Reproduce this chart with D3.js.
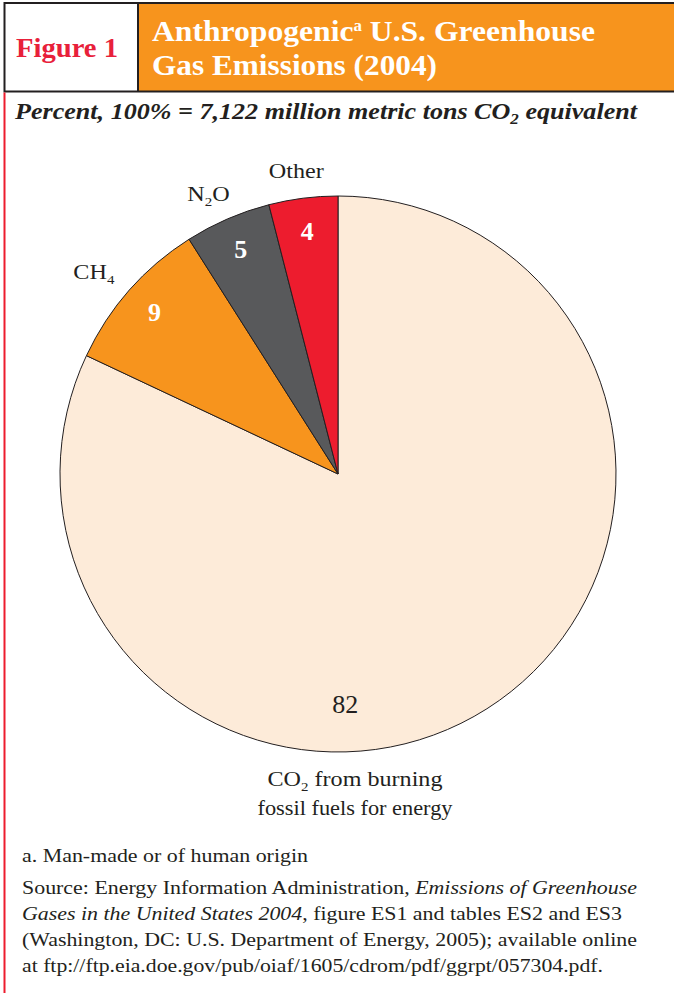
<!DOCTYPE html>
<html>
<head>
<meta charset="utf-8">
<script src="https://cdn.jsdelivr.net/npm/d3@7"></script>
</head>
<body style="margin:0;padding:0;background:#fff;">
<div id="chart"></div>
<script>
// ***************数据*******************
const names = ['CO2', 'CH4', 'N2O', 'Other'];
const values = [82, 9, 5, 4];
const colors = ['#fdebd9', '#f7941d', '#58595b', '#ed1c2e'];
// label text: [main, subscript, tail]
const labelParts = [
    ['CO', '2', ' from burning'],
    ['CH', '4', ''],
    ['N', '2', 'O'],
    ['Other', '', '']
];
const noteLines = [
    [['a. Man-made or of human origin', false]],
    [['Source: Energy Information Administration, ', false], ['Emissions of Greenhouse', true]],
    [['Gases in the United States 2004', true], [', figure ES1 and tables ES2 and ES3', false]],
    [['(Washington, DC: U.S. Department of Energy, 2005); available online', false]],
    [['at ftp://ftp.eia.doe.gov/pub/oiaf/1605/cdrom/pdf/ggrpt/057304.pdf.', false]]
];

const width = 674;
const height = 993;
const cx = 338;
const cy = 474;
const radius = 278;
const dark = '#231f20';
const font = '"Liberation Serif", "Times New Roman", serif';
const widen = 1.15; // reference face is wider than Liberation Serif

const dataset = names.map((name, i) => ({ name, value: values[i], color: colors[i], parts: labelParts[i] }));

// stretch a text horizontally to a width (or by a factor)
function fit(sel, target, factor) {
    sel.each(function () {
        const len = this.getComputedTextLength();
        const w = target || len * (factor || widen);
        d3.select(this).attr('textLength', w).attr('lengthAdjust', 'spacingAndGlyphs');
    });
    return sel;
}

const svg = d3.select('#chart').append('svg')
    .attr('width', width)
    .attr('height', height)
    .attr('font-family', font);

// ***************标题框***************
svg.append('rect')
    .attr('x', 138).attr('y', 3)
    .attr('width', width - 138).attr('height', 88)
    .attr('fill', '#f7941d');
svg.append('path')
    .attr('d', `M${width},3 H4.5 V91.5 H${width} M138,3 V91.5`)
    .attr('fill', 'none')
    .attr('stroke', dark)
    .attr('stroke-width', 2);
// left red rule
svg.append('line')
    .attr('x1', 4.5).attr('x2', 4.5)
    .attr('y1', 92.5).attr('y2', height)
    .attr('stroke', '#ed1c2e')
    .attr('stroke-width', 2);

fit(svg.append('text')
    .attr('x', 16).attr('y', 57)
    .attr('font-size', 27).attr('font-weight', 'bold')
    .attr('fill', '#e8203a')
    .text('Figure 1'), 102);

const title = svg.append('text')
    .attr('x', 152).attr('y', 41)
    .attr('font-size', 30).attr('font-weight', 'bold')
    .attr('fill', '#fff');
title.append('tspan').text('Anthropogenic');
title.append('tspan').attr('font-size', 16).attr('dy', -10).text('a');
title.append('tspan').attr('dy', 10).text(' U.S. Greenhouse');
fit(title, 443);
fit(svg.append('text')
    .attr('x', 152).attr('y', 75)
    .attr('font-size', 30).attr('font-weight', 'bold')
    .attr('fill', '#fff')
    .text('Gas Emissions (2004)'), 285);

// subtitle
const sub = svg.append('text')
    .attr('x', 15).attr('y', 119)
    .attr('font-size', 23).attr('font-style', 'italic').attr('font-weight', 'bold')
    .attr('fill', dark);
sub.append('tspan').text('Percent, 100% = 7,122 million metric tons CO');
sub.append('tspan').attr('font-size', 15).attr('dy', 5).text('2');
sub.append('tspan').attr('dy', -5).text(' equivalent');
fit(sub, 622);

// ***************饼图******************
const pie = d3.pie().sort(null).value((d) => d.value);
const arcs = pie(dataset);
const arc = d3.arc().innerRadius(0).outerRadius(radius);

const g = svg.append('g').attr('transform', `translate(${cx},${cy})`);

g.selectAll('.slice')
    .data(arcs)
    .enter()
    .append('path')
    .attr('class', 'slice')
    .attr('d', arc)
    .attr('fill', (d) => d.data.color)
    .attr('stroke', dark)
    .attr('stroke-width', 1);

// value labels inside small slices
const valueArc = d3.arc().innerRadius(radius * 0.88).outerRadius(radius * 0.88);
g.selectAll('.valueDes')
    .data(arcs.slice(1))
    .enter()
    .append('text')
    .attr('class', 'valueDes')
    .attr('transform', (d) => `translate(${valueArc.centroid(d)})`)
    .attr('text-anchor', 'middle')
    .attr('dy', '0.33em')
    .attr('font-size', 26).attr('font-weight', 'bold')
    .attr('fill', '#fff')
    .text((d) => d.value);

// outer labels for small slices, pushed sideways by half their width
const outerArc = d3.arc().innerRadius(radius * 1.097).outerRadius(radius * 1.097);
const outer = g.selectAll('.outerLabel')
    .data(arcs.slice(1))
    .enter()
    .append('text')
    .attr('class', 'outerLabel')
    .attr('text-anchor', 'middle')
    .attr('dy', '0.33em')
    .attr('font-size', 21)
    .attr('fill', dark);
outer.append('tspan').text((d) => d.data.parts[0]);
outer.append('tspan').attr('font-size', 13).attr('dy', 5).text((d) => d.data.parts[1]);
outer.append('tspan').attr('dy', (d) => d.data.parts[1] ? -5 : 0).text((d) => d.data.parts[2]);
fit(outer);
outer.attr('transform', function (d) {
    const [x, y] = outerArc.centroid(d);
    const a = (d.startAngle + d.endAngle) / 2;
    const w = +this.getAttribute('textLength');
    return `translate(${x + Math.sin(a) * w / 2},${y})`;
});

// big slice: value near bottom, label below the pie
const big = arcs[0];
const bigPos = d3.pointRadial(Math.PI * 0.99, radius * 0.83);
g.append('text')
    .attr('x', bigPos[0]).attr('y', bigPos[1])
    .attr('text-anchor', 'middle')
    .attr('dy', '0.33em')
    .attr('font-size', 26)
    .attr('fill', dark)
    .text(big.value);

const bigLabel = g.append('text')
    .attr('x', 17).attr('y', radius + 34)
    .attr('text-anchor', 'middle')
    .attr('font-size', 21)
    .attr('fill', dark);
bigLabel.append('tspan').text(big.data.parts[0]);
bigLabel.append('tspan').attr('font-size', 13).attr('dy', 5).text(big.data.parts[1]);
bigLabel.append('tspan').attr('dy', -5).text(big.data.parts[2]);
fit(bigLabel, 175);
fit(g.append('text')
    .attr('x', 17).attr('y', radius + 63)
    .attr('text-anchor', 'middle')
    .attr('font-size', 21)
    .attr('fill', dark)
    .text('fossil fuels for energy'), 195);

// ***************注释******************
const noteX = 22;
const noteY = [862, 894, 920, 946, 972];
const noteW = [286, 615, 600, 615, 581];
noteLines.forEach((line, i) => {
    const t = svg.append('text')
        .attr('x', noteX).attr('y', noteY[i])
        .attr('font-size', 19).attr('fill', dark);
    line.forEach(([s, it]) => {
        t.append('tspan').attr('font-style', it ? 'italic' : 'normal').text(s);
    });
    fit(t, noteW[i]);
});
</script>
</body>
</html>
